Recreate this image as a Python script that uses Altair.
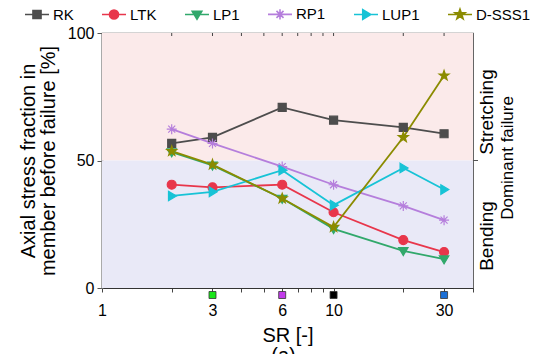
import altair as alt
import pandas as pd
import math

# ---------------- data ----------------
sr = [2, 3, 6, 10, 20, 30]
series_names = ["RK", "LTK", "LP1", "RP1", "LUP1", "D-SSS1"]
rk = [56.7, 59.1, 70.8, 65.8, 63.0, 60.5]
ltk = [40.5, 39.5, 40.5, 29.7, 18.8, 14.1]
lp1 = [53.3, 48.1, 35.1, 23.2, 14.6, 11.3]
rp1 = [62.3, 56.7, 47.6, 40.5, 32.2, 26.6]
lup1 = [36.1, 37.7, 46.2, 32.5, 47.1, 38.6]
dsss1 = [53.7, 48.4, 35.1, 23.9, 59.1, 83.3]
series_values = [rk, ltk, lp1, rp1, lup1, dsss1]
series_colors = ["#4D4D4D", "#E8364B", "#31A86B", "#B57EDC", "#17C3D6", "#8B8B00"]

x_ticks = [1, 2, 3, 4, 5, 6, 7, 8, 9, 10, 20, 30, 40]
x_labels = [1, 3, 6, 10, 30]
top_minor = [2, 3, 4, 5, 6, 7, 8, 9, 10, 20, 30]
y_ticks = [0, 50, 100]

marked_sr = [3, 6, 10, 30]
marked_colors = ["#19E619", "#C23BEA", "#000000", "#1A6FD6"]

region_lo = [50, 0]
region_hi = [100, 50]
region_colors = ["#FBEAEA", "#E9E9F7"]

# ---------------- shapes ----------------
def f(v):
    return f"{round(v, 3)}"

def square(r):
    return f"M{f(-r)},{f(-r)}H{f(r)}V{f(r)}H{f(-r)}Z"

def circle(r):
    return f"M{f(r)},0A{f(r)},{f(r)},0,1,1,{f(-r)},0A{f(r)},{f(r)},0,1,1,{f(r)},0Z"

def tri_down(r):
    return f"M{f(-r)},{f(-0.68*r)}L{f(r)},{f(-0.68*r)}L0,{f(r)}Z"

def tri_right(r):
    return f"M{f(-0.68*r)},{f(-r)}L{f(r)},0L{f(-0.68*r)},{f(r)}Z"

def asterisk(r):
    d = 0.7 * r
    return (f"M{f(-r)},0H{f(r)}M0,{f(-r)}V{f(r)}"
            f"M{f(-d)},{f(-d)}L{f(d)},{f(d)}M{f(-d)},{f(d)}L{f(d)},{f(-d)}")

def star(r):
    pts = []
    for i in range(10):
        ang = math.radians(-90 + 36 * i)
        rr = r if i % 2 == 0 else 0.4 * r
        pts.append((rr * math.cos(ang), rr * math.sin(ang)))
    return "M" + "L".join(f"{f(x)},{f(y)}" for x, y in pts) + "Z"

shape_funcs = [square, circle, tri_down, asterisk, tri_right, star]
shape_scale_r = [0.8, 0.9, 0.95, 1.0, 0.95, 1.05]
plot_paths = [fn(r) for fn, r in zip(shape_funcs, shape_scale_r)]
legend_paths = ["M-1,0H1" + fn(r * 0.42) for fn, r in zip(shape_funcs, shape_scale_r)]

shape_expr = ""
for name, p in zip(series_names, legend_paths):
    shape_expr += f"datum.value === '{name}' ? '{p}' : "
shape_expr += "'circle'"

# marker keys (distinct from the colour domain so the legends stay apart)
marker_keys = ["m_" + n for n in series_names]

# ---------------- tables ----------------
rows = []
for name, key, vals in zip(series_names, marker_keys, series_values):
    for s, v in zip(sr, vals):
        rows.append({"sr": s, "val": v, "series": name, "mk": key})
df = pd.DataFrame(rows)

W, H = 371, 255
FONT = "Liberation Sans"

xscale = alt.Scale(type="log", domain=[1, 40], nice=False)
yscale = alt.Scale(domain=[0, 100], nice=False)
cscale = alt.Scale(domain=series_names, range=series_colors)

label_list = ",".join(str(v) for v in x_labels)
x_axis = alt.Axis(
    values=x_ticks, format="d",
    labelExpr=f"indexof([{label_list}], datum.value) >= 0 ? datum.label : ''",
    title="SR [-]", tickSize=4, labelPadding=10, labelFontSize=16,
    titleFontSize=20, titlePadding=7, grid=False, domainColor="#333",
    tickColor="#444", labelFlush=False, labelOverlap=False,
    labelColor="#000", titleColor="#000", titleFontWeight="normal",
)
y_axis = alt.Axis(
    values=y_ticks, title=["Axial stress fraction in", "member before failure [%]"],
    tickSize=5, labelPadding=3, labelFontSize=16, titleFontSize=20,
    titleLineHeight=20, titlePadding=9, grid=False, domainColor="#888",
    domainWidth=2, tickColor="#555", labelColor="#000", titleColor="#000",
    titleFontWeight="normal",
)

legend = alt.Legend(
    title=None, orient="none", legendX=-78, legendY=-32, direction="horizontal",
    symbolSize=576, labelFontSize=15, labelFont=FONT, labelColor="#000",
    columnPadding=24, labelOffset=3, symbolStrokeWidth=1.6, symbolOpacity=1,
)

legend_encode = {"symbols": {"update": {
    "shape": {"signal": shape_expr},
    "fill": {"signal": "scale('color', datum.value)"},
    "stroke": {"signal": "scale('color', datum.value)"},
    "strokeWidth": {"value": 1.6},
}}}

bg = alt.Chart(pd.DataFrame({"lo": region_lo, "hi": region_hi, "c": region_colors})).mark_rect().encode(
    y=alt.Y("lo:Q", scale=yscale, axis=y_axis),
    y2="hi:Q",
    x=alt.value(0),
    x2=alt.value(W),
    fill=alt.Fill("c:N", scale=None, legend=None),
)

top_ticks = alt.Chart(pd.DataFrame({"sr": top_minor})).mark_rule(color="#444", strokeWidth=1).encode(
    x=alt.X("sr:Q", scale=xscale, axis=x_axis),
    y=alt.value(0),
    y2=alt.value(3),
)

right_tick = alt.Chart(pd.DataFrame({"v": [50]})).mark_rule(color="#555", strokeWidth=1).encode(
    y=alt.Y("v:Q", scale=yscale, axis=y_axis),
    x=alt.value(W),
    x2=alt.value(W + 5),
)

lines = alt.Chart(df).mark_line(strokeWidth=1.8).encode(
    x=alt.X("sr:Q", scale=xscale, axis=x_axis),
    y=alt.Y("val:Q", scale=yscale, axis=y_axis),
    color=alt.Color("series:N", scale=cscale, legend=legend),
    detail="series:N",
)

points = alt.Chart(df).mark_point(filled=True, size=100, strokeWidth=1.2, opacity=1).encode(
    x=alt.X("sr:Q", scale=xscale, axis=x_axis),
    y=alt.Y("val:Q", scale=yscale, axis=y_axis),
    color=alt.Color("series:N", scale=cscale, legend=legend),
    shape=alt.Shape("mk:N", scale=alt.Scale(domain=marker_keys, range=plot_paths), legend=None),
    stroke=alt.Stroke("mk:N", scale=alt.Scale(domain=marker_keys, range=series_colors), legend=None),
)

squares = alt.Chart(pd.DataFrame({"sr": marked_sr, "c": marked_colors})).mark_point(
    shape="square", filled=True, size=49, stroke="#333", strokeWidth=0.8, opacity=1
).encode(
    x=alt.X("sr:Q", scale=xscale, axis=x_axis),
    y=alt.value(H + 7),
    fill=alt.Fill("c:N", scale=None, legend=None),
)

def side_text(txt, yv, xoff, fs):
    return alt.Chart(pd.DataFrame({"t": [txt]})).mark_text(
        angle=270, fontSize=fs, font=FONT, color="#000", align="center", baseline="middle"
    ).encode(
        text="t:N",
        y=alt.Y(datum=yv, scale=yscale, axis=y_axis),
        x=alt.value(W + xoff),
    )

t1 = side_text("Stretching", 69, 14, 19)
t2 = side_text("Bending", 20.4, 14, 19)
t3 = side_text("Dominant failure", 51, 35, 17)

cap = alt.Chart(pd.DataFrame({"t": ["(a)"]})).mark_text(
    fontSize=20, font=FONT, color="#000", align="center", baseline="top"
).encode(text="t:N", x=alt.value(W / 2 - 4), y=alt.value(313))

chart = alt.layer(bg, top_ticks, right_tick, lines, points, squares, t1, t2, t3, cap).properties(
    width=W, height=H,
    padding={"left": 102, "top": 33, "right": 534 - 102 - W, "bottom": 354 - 33 - H},
    autosize=alt.AutoSizeParams(type="none"),
).configure(font=FONT).configure_view(stroke="#555", strokeWidth=1.2)


def _inject(d):
    if isinstance(d, dict):
        for k, v in d.items():
            if k == "legend" and isinstance(v, dict) and v.get("orient") == "none":
                v["encode"] = legend_encode
            else:
                _inject(v)
    elif isinstance(d, list):
        for item in d:
            _inject(item)


_orig_to_dict = chart.to_dict


def _patched_to_dict(*args, **kwargs):
    d = _orig_to_dict(*args, **kwargs)
    _inject(d)
    return d


object.__setattr__(chart, "to_dict", _patched_to_dict)

chart.save("out.html", embed_options={"renderer": "svg", "actions": False})
